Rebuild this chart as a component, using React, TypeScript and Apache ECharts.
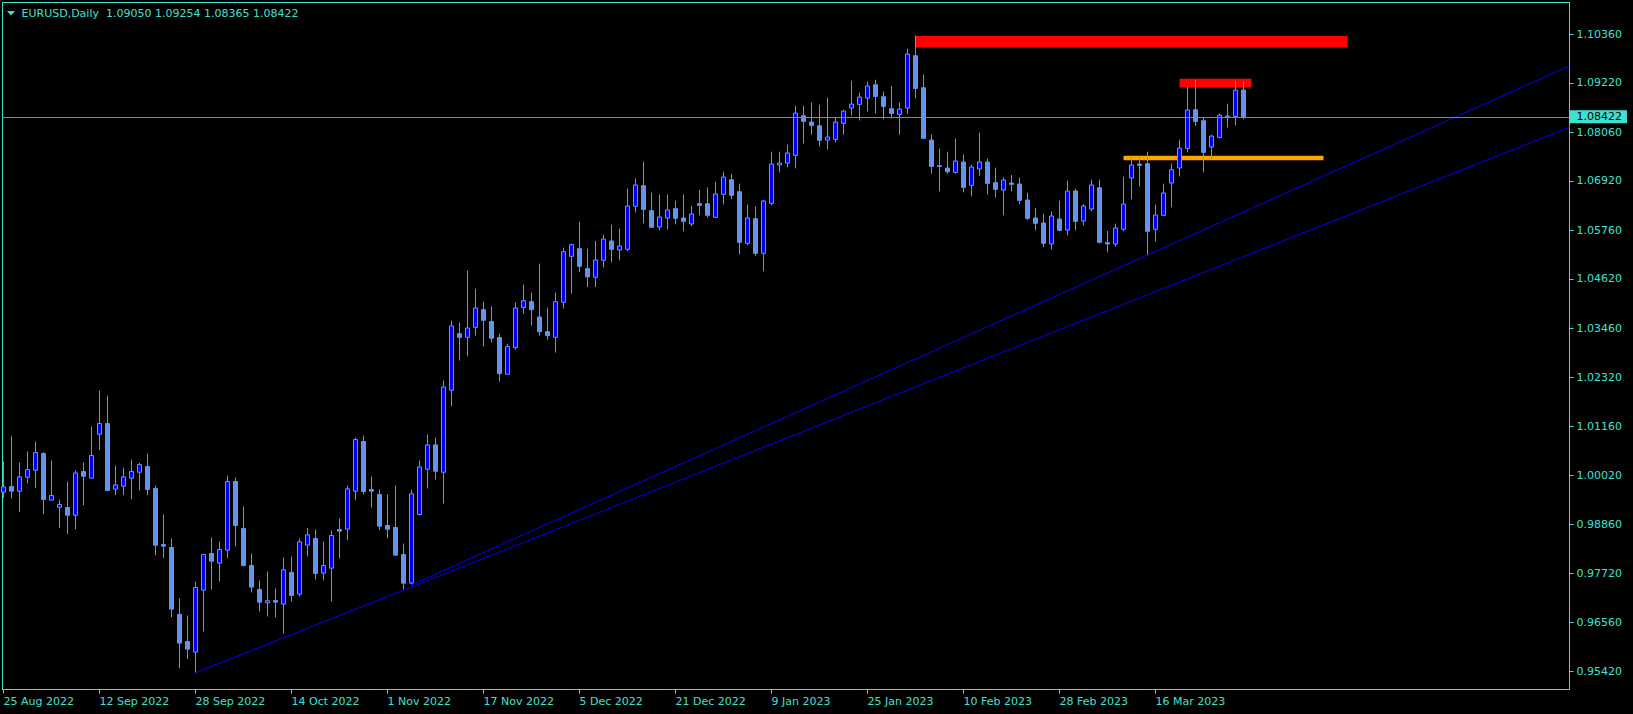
import React, { useEffect, useRef } from 'react';
import * as echarts from 'echarts';

const SYMBOL = 'EURUSD';
const PERIOD = 'Daily';

// Daily bars, index 0 = 25 Aug 2022 ... index 155 = 31 Mar 2023
const OPEN = [
  0.99618, 0.99751, 0.99642, 0.99970, 1.00134, 1.00525, 0.99431, 0.99267, 0.99259, 0.99079,
  1.00103, 0.99946, 1.00978, 1.01228, 0.99689, 0.99759, 0.99946, 1.00087, 1.00220, 0.99704,
  0.98392, 0.98321, 0.96751, 0.96118, 0.95868, 0.97322, 0.98181, 0.97955, 0.98259, 0.99869,
  0.98767, 0.97900, 0.97337, 0.97025, 0.97080, 0.96994, 0.97736, 0.97228, 0.98377, 0.98533,
  0.97720, 0.97837, 0.98744, 0.98752, 0.99642, 1.00806, 0.99681, 0.99564, 0.98837, 0.98790,
  0.98157, 0.97485, 0.99095, 1.00158, 1.00728, 1.00087, 1.02009, 1.03337, 1.03251, 1.03486,
  1.03900, 1.03619, 1.03244, 1.02384, 1.03009, 1.03947, 1.04087, 1.03728, 1.03384, 1.03251,
  1.04072, 1.05150, 1.05330, 1.04862, 1.04660, 1.05057, 1.05510, 1.05299, 1.05315, 1.06323,
  1.06807, 1.06221, 1.05838, 1.06049, 1.06268, 1.06049, 1.05909, 1.06385, 1.06385, 1.06065,
  1.06604, 1.06948, 1.06666, 1.05455, 1.06033, 1.05221, 1.06393, 1.07292, 1.07338, 1.07518,
  1.08448, 1.08299, 1.08213, 1.07878, 1.07893, 1.08268, 1.08628, 1.08714, 1.08862, 1.09174,
  1.08893, 1.08612, 1.08479, 1.08628, 1.09854, 1.09104, 1.07878, 1.07276, 1.07221, 1.07120,
  1.07362, 1.06815, 1.07198, 1.07362, 1.06877, 1.06706, 1.06870, 1.06846, 1.06471, 1.06049,
  1.05932, 1.05440, 1.06026, 1.05768, 1.06682, 1.05979, 1.06260, 1.06760, 1.05471, 1.05440,
  1.05784, 1.06987, 1.07315, 1.07323, 1.05784, 1.06112, 1.06870, 1.07221, 1.07682, 1.08588,
  1.08331, 1.07713, 1.07940, 1.08424, 1.08432, 1.09050,
];
const HIGH = [
  1.00345, 1.00931, 1.00314, 1.00579, 1.00806, 1.00556, 1.00360, 0.99446, 0.99868, 1.00126,
  1.00314, 1.01157, 1.02001, 1.01884, 1.00243, 1.00196, 1.00384, 1.00306, 1.00525, 0.99774,
  0.99095, 0.98532, 0.97126, 0.96727, 0.97524, 0.98173, 0.98556, 0.98462, 1.00009, 0.99963,
  0.99283, 0.98181, 0.97548, 0.97759, 0.97361, 0.98087, 0.98111, 0.98533, 0.98775, 0.98744,
  0.98462, 0.98720, 0.99002, 0.99775, 1.00900, 1.00947, 0.99986, 0.99681, 0.99564, 0.99775,
  0.98415, 0.99681, 1.00361, 1.00970, 1.00900, 1.02236, 1.03642, 1.03595, 1.04814, 1.04392,
  1.04087, 1.03970, 1.03337, 1.03103, 1.04064, 1.04486, 1.04298, 1.04978, 1.03947, 1.04298,
  1.05353, 1.05447, 1.05963, 1.05330, 1.05510, 1.05659, 1.05893, 1.05799, 1.06737, 1.06979,
  1.07370, 1.06643, 1.06596, 1.06596, 1.06455, 1.06596, 1.06338, 1.06713, 1.06768, 1.06901,
  1.07135, 1.07088, 1.06854, 1.06362, 1.06315, 1.06479, 1.07604, 1.07604, 1.07768, 1.08682,
  1.08682, 1.08753, 1.08706, 1.08870, 1.08409, 1.08589, 1.09268, 1.08987, 1.09253, 1.09292,
  1.09018, 1.09151, 1.08753, 1.10018, 1.10330, 1.09409, 1.08003, 1.07674, 1.07604, 1.07909,
  1.07534, 1.07299, 1.08049, 1.07440, 1.07229, 1.07002, 1.07057, 1.06995, 1.06643, 1.06284,
  1.06151, 1.06198, 1.06456, 1.06924, 1.06737, 1.06377, 1.06948, 1.06948, 1.05745, 1.05916,
  1.07018, 1.07479, 1.07510, 1.07604, 1.06362, 1.06854, 1.07323, 1.07885, 1.09128, 1.09292,
  1.08401, 1.08003, 1.08495, 1.08729, 1.09260, 1.09254,
];
const LOW = [
  0.99485, 0.99470, 0.99149, 0.99829, 0.99712, 0.99102, 0.99431, 0.98774, 0.98634, 0.98751,
  0.99314, 0.99946, 1.00603, 0.99657, 0.99548, 0.99548, 0.99454, 0.99657, 0.99548, 0.98142,
  0.98071, 0.96688, 0.95493, 0.95704, 0.95384, 0.96353, 0.97337, 0.97525, 0.98072, 0.98345,
  0.97876, 0.97267, 0.96822, 0.96704, 0.96681, 0.96306, 0.97056, 0.97173, 0.98111, 0.97572,
  0.97548, 0.97056, 0.98064, 0.98494, 0.99431, 0.99572, 0.99259, 0.98728, 0.98540, 0.98142,
  0.97337, 0.97446, 0.99072, 0.99704, 0.99915, 0.99353, 1.01634, 1.02705, 1.02806, 1.03290,
  1.03033, 1.03126, 1.02212, 1.02384, 1.02962, 1.03806, 1.03525, 1.03290, 1.03197, 1.02892,
  1.03923, 1.04275, 1.04783, 1.04430, 1.04430, 1.04893, 1.05010, 1.05057, 1.05268, 1.06182,
  1.05924, 1.05830, 1.05760, 1.05783, 1.05901, 1.05737, 1.05862, 1.06112, 1.06065, 1.06049,
  1.06370, 1.06487, 1.05198, 1.05409, 1.05158, 1.04799, 1.06346, 1.07120, 1.07237, 1.07213,
  1.07799, 1.08003, 1.07721, 1.07659, 1.07823, 1.08003, 1.08456, 1.08338, 1.08549, 1.08503,
  1.08362, 1.08385, 1.08003, 1.08495, 1.08854, 1.07917, 1.07088, 1.06674, 1.07088, 1.07088,
  1.06651, 1.06557, 1.07041, 1.06596, 1.06534, 1.06112, 1.06674, 1.06370, 1.05994, 1.05760,
  1.05362, 1.05315, 1.05737, 1.05643, 1.05760, 1.05877, 1.06205, 1.05455, 1.05245, 1.05377,
  1.05737, 1.06487, 1.06784, 1.05174, 1.05502, 1.06088, 1.06299, 1.07026, 1.07588, 1.08213,
  1.07120, 1.07440, 1.07917, 1.08174, 1.08221, 1.08365,
];
const CLOSE = [
  0.99743, 0.99642, 0.99978, 1.00149, 1.00548, 0.99446, 0.99540, 0.99329, 0.99079, 1.00071,
  0.99993, 1.00478, 1.01228, 0.99657, 0.99790, 0.99978, 1.00103, 1.00267, 0.99681, 0.98376,
  0.98353, 0.96876, 0.96079, 0.95938, 0.97384, 0.98158, 0.98001, 0.98275, 0.99869, 0.98837,
  0.97900, 0.97392, 0.97040, 0.97072, 0.97040, 0.97798, 0.97197, 0.98455, 0.98619, 0.97712,
  0.97900, 0.98603, 0.98705, 0.99697, 1.00853, 0.99634, 0.99642, 0.98822, 0.98751, 0.98142,
  0.97485, 0.99579, 1.00212, 1.00728, 1.00111, 1.02087, 1.03517, 1.03251, 1.03470, 1.03939,
  1.03650, 1.03228, 1.02400, 1.03033, 1.03939, 1.04111, 1.03900, 1.03384, 1.03290, 1.04087,
  1.05259, 1.05423, 1.04916, 1.04670, 1.05065, 1.05557, 1.05315, 1.05393, 1.06330, 1.06823,
  1.06252, 1.05830, 1.06073, 1.06237, 1.06041, 1.05971, 1.06143, 1.06346, 1.06112, 1.06612,
  1.07010, 1.06580, 1.05479, 1.06049, 1.05221, 1.06448, 1.07315, 1.07338, 1.07573, 1.08510,
  1.08315, 1.08221, 1.07870, 1.07948, 1.08299, 1.08557, 1.08721, 1.08885, 1.09143, 1.08901,
  1.08667, 1.08503, 1.08604, 1.09893, 1.09089, 1.07917, 1.07260, 1.07260, 1.07135, 1.07385,
  1.06768, 1.07245, 1.07362, 1.06862, 1.06721, 1.06940, 1.06838, 1.06463, 1.06041, 1.05924,
  1.05455, 1.06096, 1.05760, 1.06682, 1.05971, 1.06330, 1.06823, 1.05479, 1.05440, 1.05815,
  1.06377, 1.07292, 1.07284, 1.05737, 1.06120, 1.06635, 1.07182, 1.07690, 1.08581, 1.08315,
  1.07588, 1.07971, 1.08463, 1.08440, 1.09049, 1.08422,
];

// time axis tick labels (bar index -> label)
const DATE_TICK_INDEX = [0, 12, 24, 36, 48, 60, 72, 84, 96, 108, 120, 132, 144];
const DATE_LABELS = [
  '25 Aug 2022', '12 Sep 2022', '28 Sep 2022', '14 Oct 2022', '1 Nov 2022', '17 Nov 2022',
  '5 Dec 2022', '21 Dec 2022', '9 Jan 2023', '25 Jan 2023', '10 Feb 2023', '28 Feb 2023', '16 Mar 2023',
];
// price axis tick labels
const PRICE_TICKS = [
  0.95420, 0.96560, 0.97720, 0.98860, 1.00020, 1.01160, 1.02320,
  1.03460, 1.04620, 1.05760, 1.06920, 1.08060, 1.09220, 1.10360,
];

// visible range of the chart window (bar index / price)
const X_MIN = -0.125;
const X_MAX = 195.75;
const Y_MIN = 0.949908;
const Y_MAX = 1.111035;

// drawn objects: rectangles (bar index from/to, price top/bottom)
const RECT_FROM = [114, 147, 140];
const RECT_TO = [168, 156, 165];
const RECT_TOP = [1.1032, 1.09315, 1.07511];
const RECT_BOTTOM = [1.10046, 1.09112, 1.07402];
const RECT_COLORS = ['#FF0000', '#FF0000', '#FFA500'];

// drawn objects: trend lines as [bar index, price] anchor pairs
const TREND_LOWER = [[24, 0.95384], [195.75, 1.08179]];
const TREND_UPPER = [[51, 0.97446], [195.75, 1.09617]];

const TURQ = '#40E0D0';
const BULL_FILL = '#0000FF';
const BEAR_FILL = '#6495ED';
const WICK = '#6495ED';
const FONT = '"DejaVu Sans", Tahoma, sans-serif';

export default function App() {
  const ref = useRef<HTMLDivElement>(null);

  useEffect(() => {
    if (!ref.current) return;
    const chart = echarts.init(ref.current, null, { renderer: 'svg' });
    const last = CLOSE.length - 1;
    const f5 = (v: number) => v.toFixed(5);
    const candles = OPEN.map((o, i) => [i, o, CLOSE[i], LOW[i], HIGH[i]]);
    const rects = RECT_FROM.map((x, i) => [x, RECT_TOP[i], RECT_TO[i], RECT_BOTTOM[i]]);
    const titleText = `${SYMBOL},${PERIOD}  ${f5(OPEN[last])} ${f5(HIGH[last])} ${f5(LOW[last])} ${f5(CLOSE[last])}`;

    const option: any = {
      animation: false,
      backgroundColor: '#000000',
      grid: {
        left: 2.5,
        top: 2.5,
        width: 1567,
        height: 687,
        show: true,
        borderColor: TURQ,
        borderWidth: 1,
        backgroundColor: 'transparent',
        containLabel: false,
        outerBoundsMode: 'none',
      },
      xAxis: {
        type: 'value',
        min: X_MIN,
        max: X_MAX,
        position: 'bottom',
        splitLine: { show: false },
        axisLine: { show: true, onZero: false, lineStyle: { color: TURQ, width: 1 } },
        axisTick: {
          show: true,
          customValues: DATE_TICK_INDEX,
          length: 4,
          lineStyle: { color: TURQ, width: 1 },
        },
        axisLabel: {
          show: true,
          customValues: DATE_TICK_INDEX,
          formatter: (v: number) => {
            const k = DATE_TICK_INDEX.indexOf(Math.round(v));
            return k >= 0 ? DATE_LABELS[k] : '';
          },
          color: TURQ,
          fontFamily: FONT,
          fontSize: 11,
          align: 'left',
          margin: 6,
          showMinLabel: true,
          showMaxLabel: true,
          hideOverlap: false,
        },
      },
      yAxis: {
        type: 'value',
        position: 'right',
        min: Y_MIN,
        max: Y_MAX,
        splitLine: { show: false },
        axisLine: { show: true, onZero: false, lineStyle: { color: TURQ, width: 1 } },
        axisTick: {
          show: true,
          customValues: PRICE_TICKS,
          length: 4,
          lineStyle: { color: TURQ, width: 1 },
        },
        axisLabel: {
          show: true,
          customValues: PRICE_TICKS,
          formatter: (v: number) => v.toFixed(5),
          color: TURQ,
          fontFamily: FONT,
          fontSize: 11,
          margin: 7,
          showMinLabel: true,
          showMaxLabel: true,
          hideOverlap: false,
        },
      },
      graphic: [
        {
          type: 'polygon',
          silent: true,
          shape: { points: [[7, 11], [15, 11], [11, 15.5]] },
          style: { fill: TURQ },
          z: 100,
        },
        {
          type: 'text',
          silent: true,
          x: 21.5,
          y: 13.5,
          style: {
            text: titleText,
            fill: TURQ,
            font: `11px ${FONT}`,
            textVerticalAlign: 'middle',
            textAlign: 'left',
          },
          z: 100,
        },
      ],
      series: [
        {
          type: 'custom',
          name: 'objects',
          z: 1,
          clip: true,
          silent: true,
          data: rects,
          encode: { x: [0, 2], y: [1, 3] },
          renderItem: (params: any, api: any) => {
            const p1 = api.coord([api.value(0), api.value(1)]);
            const p2 = api.coord([api.value(2), api.value(3)]);
            return {
              type: 'rect',
              shape: {
                x: Math.min(p1[0], p2[0]),
                y: Math.min(p1[1], p2[1]),
                width: Math.abs(p2[0] - p1[0]),
                height: Math.abs(p2[1] - p1[1]),
              },
              style: { fill: RECT_COLORS[params.dataIndex] },
            };
          },
        },
        {
          type: 'candlestick',
          name: SYMBOL,
          z: 3,
          clip: true,
          silent: true,
          barWidth: 4,
          data: candles,
          encode: { x: 0, y: [1, 2, 3, 4] },
          itemStyle: {
            color: BULL_FILL,
            color0: BEAR_FILL,
            borderColor: WICK,
            borderColor0: WICK,
            borderWidth: 1,
          },
          markLine: {
            silent: true,
            symbol: ['none', 'none'],
            precision: 5,
            animation: false,
            lineStyle: { color: '#808890', width: 1, type: 'solid' },
            label: {
              show: true,
              position: 'end',
              distance: 0,
              formatter: f5(CLOSE[last]),
              backgroundColor: TURQ,
              color: '#000000',
              fontFamily: FONT,
              fontSize: 11,
              lineHeight: 13,
              padding: [0, 5, 0, 7],
            },
            data: [{ yAxis: CLOSE[last] }],
          },
        },
        {
          type: 'line',
          name: 'trend lower',
          z: 4,
          silent: true,
          symbol: 'none',
          clip: true,
          data: TREND_LOWER,
          lineStyle: { color: '#0000FF', width: 1 },
        },
        {
          type: 'line',
          name: 'trend upper',
          z: 4,
          silent: true,
          symbol: 'none',
          clip: true,
          data: TREND_UPPER,
          lineStyle: { color: '#0000FF', width: 1 },
        },
      ],
    };

    chart.setOption(option);
    return () => chart.dispose();
  }, []);

  return (
    <div
      ref={ref}
      style={{ position: 'absolute', left: 0, top: 0, width: 1633, height: 714, background: '#000' }}
    />
  );
}
